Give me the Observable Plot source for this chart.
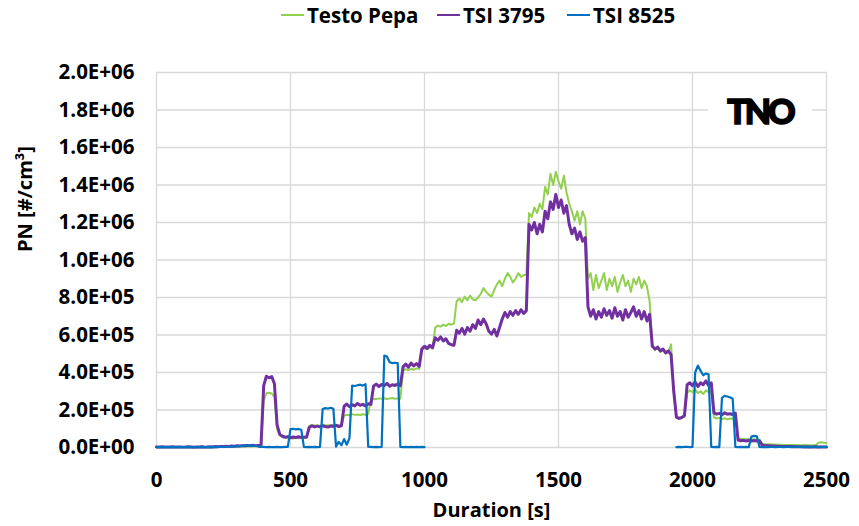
<!DOCTYPE html>
<html><head><meta charset="utf-8">
<script src="https://cdn.jsdelivr.net/npm/d3@7"></script>
<script src="https://cdn.jsdelivr.net/npm/@observablehq/plot@0.6"></script>
<style>
body{margin:0;background:#fff;font-family:"Open Sans",sans-serif;}
#wrap{position:relative;width:859px;height:526px;overflow:hidden;}
#legend{position:relative;height:40px;}
.item{position:absolute;top:0;height:30px;display:flex;align-items:center;font-weight:700;font-size:20.5px;color:#000;white-space:nowrap;}
.sw{width:23px;height:2px;margin-right:3px;}
#logo{position:absolute;left:708px;top:85px;width:104px;height:50px;background:#fff;display:flex;align-items:center;justify-content:center;font-family:"Lato",sans-serif;font-weight:900;font-size:34px;letter-spacing:-3px;color:#000;-webkit-text-stroke:1.6px #000;}
</style></head>
<body>
<div id="wrap"><div id="legend"></div><div id="chart"></div><div id="logo">TNO</div></div>
<script>
// values in units of 1E+05 #/cm³, sampled every 10 s
const seriesNames = ["Testo Pepa", "TSI 3795", "TSI 8525"];
const seriesColors = ["#92D050", "#7030A0", "#0070C0"];
const legendLeft = [281, 437, 567];
const xTicks = [0, 500, 1000, 1500, 2000, 2500];
const yTicks = [0, 2e5, 4e5, 6e5, 8e5, 1e6, 1.2e6, 1.4e6, 1.6e6, 1.8e6, 2e6];

const timesMain = d3.range(0, 2501, 10);
const testoPepaE5 = [
0.01,0.01,0.02,0.01,0.01,0.02,0.01,0.01,0.02,0.01,
0.01,0.02,0.01,0.01,0.02,0.01,0.01,0.02,0.01,0.01,
0.02,0.02,0.03,0.02,0.03,0.03,0.04,0.03,0.04,0.04,
0.05,0.04,0.05,0.06,0.05,0.06,0.06,0.07,0.06,0.07,
2.50,2.90,2.92,2.88,2.70,1.00,0.65,0.55,0.52,0.50,
0.50,0.48,0.52,0.49,0.50,0.51,0.50,1.15,1.20,1.17,
1.18,1.16,1.20,1.17,1.19,1.18,1.21,1.17,1.19,1.18,
1.70,1.75,1.72,1.78,1.74,1.76,1.73,1.77,1.75,1.78,
2.55,2.60,2.58,2.62,2.60,2.63,2.59,2.61,2.64,2.60,
2.62,2.60,4.10,4.18,4.12,4.20,4.15,4.22,4.18,5.20,
5.30,5.25,5.35,5.28,6.40,6.50,6.45,6.55,6.48,6.60,
6.55,6.62,7.80,7.95,7.75,8.05,7.85,8.10,7.90,7.85,
8.00,8.20,8.50,8.30,8.15,8.05,8.40,8.70,8.90,8.60,
9.00,9.30,9.10,8.80,9.00,9.30,9.10,9.20,9.20,12.50,
12.30,12.80,12.50,13.00,12.70,13.90,13.50,14.60,14.00,14.70,
14.20,13.80,14.50,13.60,13.00,12.60,12.10,12.60,11.90,12.60,
12.20,9.00,9.30,8.40,9.20,8.50,8.90,9.30,8.40,9.00,
8.60,9.10,8.30,8.80,9.20,8.60,8.90,8.30,9.00,8.70,
9.10,8.50,8.90,8.60,7.80,5.50,5.20,5.30,5.10,5.20,
5.00,5.10,5.50,3.00,1.60,1.55,1.58,1.65,2.90,3.05,
2.95,3.10,2.90,3.00,2.85,3.05,2.95,3.00,1.60,1.55,
1.58,1.52,1.56,1.50,1.55,1.53,1.60,0.50,0.45,0.46,
0.44,0.45,0.43,0.44,0.42,0.43,0.20,0.18,0.17,0.17,
0.16,0.16,0.15,0.15,0.14,0.14,0.14,0.13,0.13,0.13,
0.12,0.12,0.13,0.12,0.12,0.12,0.12,0.26,0.28,0.25,
0.24];
const tsi3795E5 = [
0.03,0.02,0.04,0.03,0.02,0.03,0.04,0.02,0.03,0.03,
0.02,0.03,0.04,0.03,0.02,0.03,0.03,0.04,0.02,0.03,
0.04,0.03,0.05,0.04,0.06,0.05,0.07,0.06,0.08,0.07,
0.09,0.08,0.10,0.09,0.11,0.10,0.12,0.10,0.11,0.12,
3.30,3.80,3.72,3.78,3.40,1.20,0.70,0.60,0.55,0.58,
0.52,0.56,0.53,0.57,0.54,0.55,0.56,1.08,1.15,1.10,
1.14,1.10,1.16,1.12,1.09,1.15,1.13,1.18,1.12,1.16,
2.20,2.32,2.18,2.28,2.22,2.35,2.25,2.30,2.21,2.33,
2.30,3.28,3.38,3.25,3.36,3.30,3.42,3.27,3.35,3.31,
3.38,3.30,4.30,4.45,4.28,4.50,4.35,4.48,4.32,5.25,
5.40,5.28,5.45,5.32,5.85,5.72,5.90,5.68,5.80,5.55,
5.48,5.45,6.25,6.10,6.35,6.05,6.40,6.20,6.55,6.35,
6.80,6.55,6.85,6.60,6.20,6.05,6.30,5.95,6.40,6.85,
7.20,6.95,7.25,7.05,7.30,7.10,7.35,7.15,7.30,11.90,
11.60,12.00,11.40,11.90,11.50,12.60,12.20,13.10,12.70,13.50,
12.80,13.20,12.50,12.90,11.90,11.40,11.70,11.10,11.50,11.00,
11.20,7.50,7.00,7.35,6.85,7.25,6.95,7.40,7.05,7.30,
6.90,7.45,7.00,7.25,6.80,7.35,6.95,7.20,7.50,7.00,
7.30,6.85,7.25,6.75,7.10,5.40,5.25,5.35,5.15,5.25,
5.05,5.15,4.95,3.00,1.62,1.55,1.60,1.70,3.35,3.45,
3.30,3.50,3.25,3.45,3.35,3.55,3.30,3.45,1.85,1.78,
1.82,1.75,1.85,1.78,1.80,1.76,1.83,0.40,0.36,0.38,
0.35,0.38,0.34,0.37,0.35,0.36,0.12,0.10,0.09,0.08,
0.08,0.07,0.07,0.06,0.06,0.05,0.05,0.05,0.04,0.04,
0.04,0.04,0.03,0.04,0.03,0.03,0.04,0.03,0.03,0.03,
0.03];
// TSI 8525 has no data between 1000 s and 1940 s
const timesTsi8525A = d3.range(0, 1001, 10);
const tsi8525AE5 = [
0.02,0.03,0.02,0.02,0.03,0.02,0.02,0.03,0.02,0.02,
0.02,0.02,0.03,0.02,0.01,0.02,0.02,0.03,0.02,0.02,
0.02,0.03,0.02,0.03,0.04,0.03,0.03,0.04,0.05,0.06,
0.07,0.08,0.09,0.10,0.10,0.11,0.10,0.09,0.05,0.03,
0.03,0.02,0.03,0.02,0.02,0.03,0.02,0.02,0.03,0.03,
0.98,1.00,0.97,0.99,0.95,0.03,0.02,0.03,0.02,0.03,
0.02,0.03,2.05,2.10,2.08,2.12,2.06,0.05,0.30,0.12,
0.45,0.15,0.50,3.30,3.28,3.32,3.35,3.30,3.38,0.04,
0.03,0.02,0.03,0.02,0.03,4.90,4.85,4.55,4.50,4.52,
4.50,0.03,0.02,0.03,0.02,0.03,0.02,0.03,0.02,0.03,
0.02];
const timesTsi8525B = d3.range(1940, 2501, 10);
const tsi8525BE5 = [
0.02,0.03,0.02,0.03,0.04,0.02,
0.03,4.00,4.37,4.10,3.85,3.95,3.90,0.03,0.02,0.03,
0.02,2.65,2.75,2.72,2.68,2.60,0.03,0.02,0.03,0.02,
0.03,0.02,0.58,0.62,0.60,0.03,0.02,0.03,0.02,0.03,
0.03,0.02,0.03,0.03,0.02,0.03,0.03,0.02,0.03,0.03,
0.03,0.02,0.03,0.03,0.02,0.03,0.03,0.02,0.03,0.03,
0.03];

const toRows = (times, vals, seg) => times.map((t, i) => ({t, v: vals[i] * 1e5, seg}));
const greenRows = toRows(timesMain, testoPepaE5, 0);
const purpleRows = toRows(timesMain, tsi3795E5, 0);
const blueRows = toRows(timesTsi8525A, tsi8525AE5, 0).concat(toRows(timesTsi8525B, tsi8525BE5, 1));

const fmt = d => {
  const [m, e] = d.toExponential(1).split("e");
  const n = +e;
  return m + "E" + (n < 0 ? "-" : "+") + String(Math.abs(n)).padStart(2, "0");
};

// legend
const legend = document.getElementById("legend");
seriesNames.forEach((name, i) => {
  const it = document.createElement("div");
  it.className = "item";
  it.style.left = legendLeft[i] + "px";
  const sw = document.createElement("span");
  sw.className = "sw";
  sw.style.background = seriesColors[i];
  it.appendChild(sw);
  it.appendChild(document.createTextNode(name));
  legend.appendChild(it);
});

const grid = "#d9d9d9";
const chart = Plot.plot({
  width: 859, height: 486,
  marginLeft: 156, marginRight: 33, marginTop: 32, marginBottom: 79,
  style: {fontFamily: "'Open Sans', sans-serif", fontSize: "20.5px", fontWeight: "700", color: "#000", background: "#fff", overflow: "visible"},
  x: {domain: [0, 2500]},
  y: {domain: [0, 2e6]},
  marks: [
    Plot.gridX(xTicks.slice(1), {stroke: grid, strokeOpacity: 1, strokeWidth: 1.3}),
    Plot.gridY(yTicks.slice(1), {stroke: grid, strokeOpacity: 1, strokeWidth: 1.3}),
    Plot.ruleX([0], {stroke: grid, strokeWidth: 1.3}),
    Plot.ruleY([0], {stroke: grid, strokeWidth: 1.3}),
    Plot.axisX(xTicks, {tickSize: 0, tickPadding: 25, label: null, tickFormat: d => String(d)}),
    Plot.axisY(yTicks, {tickSize: 0, tickPadding: 22, label: null, tickFormat: fmt}),
    Plot.line(greenRows, {x: "t", y: "v", stroke: seriesColors[0], strokeWidth: 2, strokeLinejoin: "round"}),
    Plot.line(purpleRows, {x: "t", y: "v", stroke: seriesColors[1], strokeWidth: 3, strokeLinejoin: "round"}),
    Plot.line(blueRows, {x: "t", y: "v", z: "seg", stroke: seriesColors[2], strokeWidth: 2.2, strokeLinejoin: "round"}),
    Plot.text(["PN [#/cm³]"], {frameAnchor: "left", textAnchor: "middle", lineAnchor: "middle", rotate: -90, dx: -131, dy: -61, fontSize: 20, fontWeight: 700, fill: "#000"}),
    Plot.text(["Duration [s]"], {frameAnchor: "bottom", textAnchor: "middle", lineAnchor: "middle", dy: 63, fontSize: 20, fontWeight: 700, fill: "#000"})
  ]
});
document.getElementById("chart").appendChild(chart);
</script>
</body></html>
